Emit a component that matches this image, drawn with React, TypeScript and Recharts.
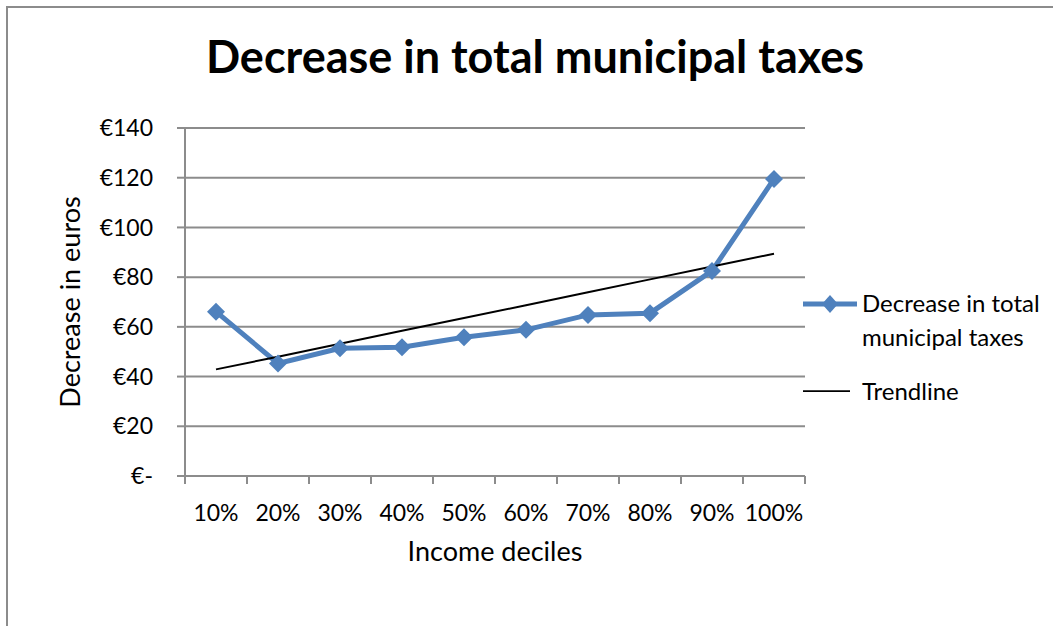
import React from "react";
import { LineChart, Line, XAxis, YAxis, CartesianGrid, Legend } from "recharts";

const deciles = ["10%", "20%", "30%", "40%", "50%", "60%", "70%", "80%", "90%", "100%"];
const decrease = [66.1, 45.3, 51.4, 51.8, 55.8, 58.8, 64.8, 65.5, 82.5, 119.5];
const trendline = [42.9, 48.0, 53.2, 58.4, 63.6, 68.7, 73.9, 79.1, 84.3, 89.4];
const yTicks = [0, 20, 40, 60, 80, 100, 120, 140];
const xTicks = [0, 1, 2, 3, 4, 5, 6, 7, 8, 9, 10];

const BLUE = "#4F81BD";
const GRID = "#8c8c8c";
const FONT = "Lato, 'Open Sans', sans-serif";

const rows = deciles.map((d, i) => ({
  x: i + 0.5,
  label: d,
  value: decrease[i],
  trend: trendline[i],
}));

const Diamond = (props: any) => {
  const { cx, cy, index } = props;
  if (cx == null || cy == null) return <g key={index} />;
  const r = 9;
  return (
    <path
      key={index}
      d={`M${cx},${cy - r} L${cx + r},${cy} L${cx},${cy + r} L${cx - r},${cy} Z`}
      fill={BLUE}
    />
  );
};

// labels sit between the boundary tick marks, like Excel's category axis
const DecileTick = (props: any) => {
  const { x, y, payload } = props;
  const label = deciles[payload.value];
  if (!label) return <g />;
  return (
    <text x={x + 31} y={y} dy={35} textAnchor="middle" fill="#000" fontSize={23} fontFamily={FONT}>
      {label}
    </text>
  );
};

const renderLegend = () => (
  <svg width={260} height={130} style={{ overflow: "visible" }}>
    <line x1={3} y1={14} x2={57} y2={14} stroke={BLUE} strokeWidth={5} />
    <path d="M30,5 L38,14 L30,23 L22,14 Z" fill={BLUE} />
    <text x={62} y={22} fontSize={24} fontFamily={FONT} fill="#000">Decrease in total</text>
    <text x={62} y={56} fontSize={24} fontFamily={FONT} fill="#000">municipal taxes</text>
    <line x1={3} y1={101} x2={50} y2={101} stroke="#000" strokeWidth={1.75} />
    <text x={62} y={110} fontSize={24} fontFamily={FONT} fill="#000">Trendline</text>
  </svg>
);

export default function App() {
  return (
    <div style={{ position: "absolute", left: 0, top: 0, width: 1053, height: 626, overflow: "hidden", background: "#fff" }}>
      <div
        style={{
          position: "absolute",
          left: 6,
          top: 6,
          right: 0,
          bottom: 0,
          borderLeft: `2px solid ${GRID}`,
          borderTop: `2px solid ${GRID}`,
        }}
      />
      <div
        style={{
          position: "absolute",
          left: 0,
          top: 31,
          width: 1070,
          textAlign: "center",
          fontFamily: FONT,
          fontWeight: 700,
          fontSize: 45,
          lineHeight: "50px",
          color: "#000",
        }}
      >
        Decrease in total municipal taxes
      </div>
      <div style={{ position: "absolute", left: 0, top: 0 }}>
        <LineChart
          width={1053}
          height={626}
          data={rows}
          margin={{ top: 128, right: 248, bottom: 60, left: 50 }}
          style={{ fontFamily: FONT }}
        >
          <CartesianGrid vertical={false} stroke={GRID} strokeWidth={2} />
          <XAxis
            dataKey="x"
            type="number"
            domain={[0, 10]}
            ticks={xTicks}
            interval={0}
            height={90}
            tickSize={8}
            tickLine={{ stroke: GRID, strokeWidth: 2 }}
            axisLine={{ stroke: GRID, strokeWidth: 2 }}
            tick={<DecileTick />}
            label={{ value: "Income deciles", position: "insideBottom", offset: 5, fill: "#000", fontSize: 27 }}
          />
          <YAxis
            type="number"
            domain={[0, 140]}
            ticks={yTicks}
            interval={0}
            width={135}
            tickSize={8}
            tickMargin={24}
            tickFormatter={(v: number) => (v === 0 ? "€-" : `€${v}`)}
            tick={{ fill: "#000", fontSize: 23 }}
            tickLine={{ stroke: GRID, strokeWidth: 2 }}
            axisLine={{ stroke: GRID, strokeWidth: 2 }}
            label={{
              value: "Decrease in euros",
              angle: -90,
              position: "insideLeft",
              offset: 20,
              fill: "#000",
              fontSize: 27,
              style: { textAnchor: "middle" },
            }}
          />
          <Legend
            layout="horizontal"
            align="center"
            verticalAlign="middle"
            content={renderLegend}
            wrapperStyle={{ left: 800, top: 290, width: 260, height: 130 }}
          />
          <Line
            dataKey="value"
            name="Decrease in total municipal taxes"
            stroke={BLUE}
            strokeWidth={5}
            dot={Diamond}
            activeDot={false}
            isAnimationActive={false}
          />
          <Line
            dataKey="trend"
            name="Trendline"
            stroke="#000"
            strokeWidth={2}
            dot={false}
            activeDot={false}
            isAnimationActive={false}
          />
        </LineChart>
      </div>
    </div>
  );
}
